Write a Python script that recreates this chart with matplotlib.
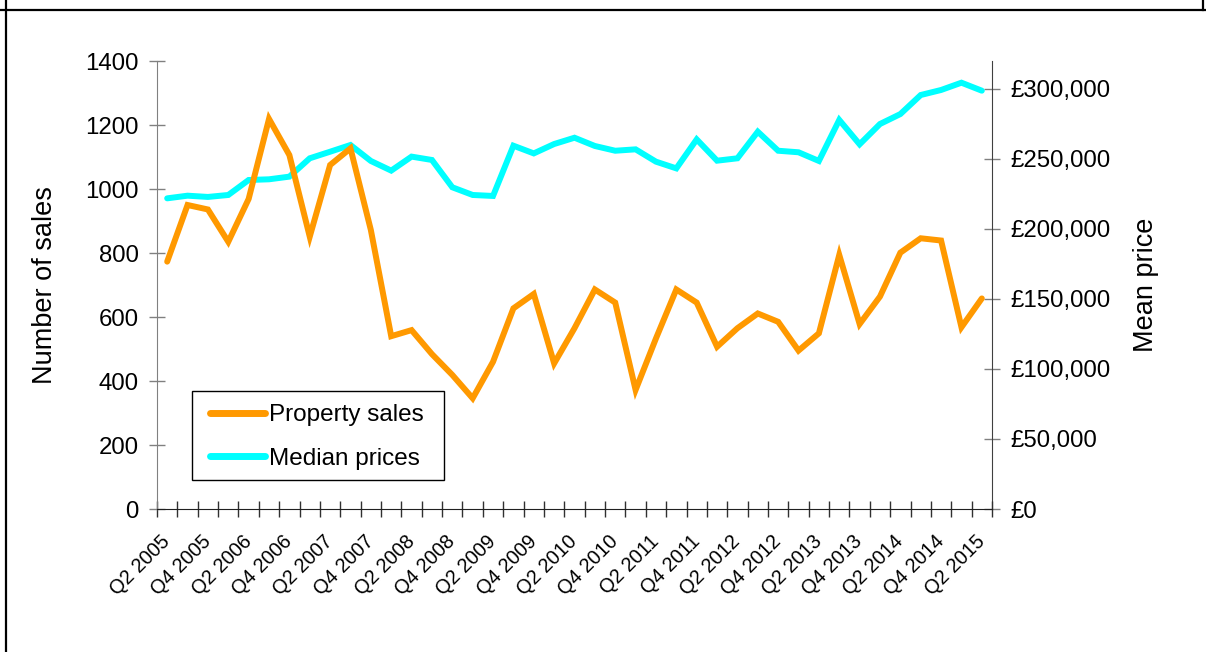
import matplotlib
matplotlib.use("Agg")
import matplotlib.pyplot as plt
from matplotlib.ticker import FuncFormatter, FixedLocator
from matplotlib.lines import Line2D
from matplotlib.patches import Rectangle

plt.rcParams['font.family'] = ['Liberation Sans', 'DejaVu Sans']

quarters = [f"Q{q} {y}" for y in range(2005, 2016) for q in (1, 2, 3, 4)]
quarters = quarters[1:quarters.index("Q2 2015") + 1]

property_sales = [773, 950, 936, 835, 969, 1219, 1106, 851, 1075, 1127,
                  872, 540, 559, 484, 419, 346, 460, 627, 672, 455,
                  565, 686, 645, 372, 533, 686, 645, 507, 565, 611,
                  585, 495, 549, 794, 578, 664, 801, 846, 839, 568, 658]

median_prices = [221900, 223800, 222900, 224300, 235000, 235500, 237400, 250500,
                 255200, 260000, 248600, 241700, 251700, 249300, 229800, 224300,
                 223600, 259500, 254000, 260700, 265200, 259300, 255900, 256900,
                 248100, 243300, 264000, 248800, 250500, 269500, 255900, 254800,
                 248600, 277900, 260500, 275000, 282100, 295700, 299300, 304500,
                 298800]

left_ticks = [0, 200, 400, 600, 800, 1000, 1200, 1400]
right_ticks = [0, 50000, 100000, 150000, 200000, 250000, 300000]

ORANGE = "#FF9900"
CYAN = "#00FFFF"
GREY = "#808080"

W, H = 1206, 652
AX_L, AX_R, AX_T, AX_B = 157, 992, 61, 509

fig = plt.figure(figsize=(W/100, H/100), dpi=100)
ax = fig.add_axes([AX_L/W, 1 - AX_B/H, (AX_R - AX_L)/W, (AX_B - AX_T)/H])
ax2 = ax.twinx()

x = list(range(len(quarters)))
l1, = ax.plot(x, property_sales, color=ORANGE, lw=4.3, solid_joinstyle='miter',
              solid_capstyle='round', zorder=3)
l2, = ax2.plot(x, median_prices, color=CYAN, lw=4.3, solid_joinstyle='miter',
               solid_capstyle='round', zorder=2)

ax.set_xlim(-0.5, len(quarters) - 0.5)
ax.set_ylim(0, 1400)
ax2.set_ylim(0, 320000)

# y axes
ax.set_yticks(left_ticks)
ax2.set_yticks(right_ticks)
ax2.yaxis.set_major_formatter(FuncFormatter(lambda v, p: f"£{v:,.0f}"))
ax.tick_params(axis='y', direction='inout', length=12, width=1, color=GREY,
               labelsize=17.3, pad=7)
ax2.tick_params(axis='y', direction='inout', length=12, width=1, color=GREY,
                labelsize=17.3, pad=7)

# x axis: ticks at category boundaries, labels at every second category
ax.xaxis.set_major_locator(FixedLocator(x[::2]))
ax.set_xticklabels(quarters[::2], rotation=45, ha='right', va='center',
                   rotation_mode='anchor', fontsize=14.3)
ax.tick_params(axis='x', which='major', length=0, pad=21)
ax.xaxis.set_minor_locator(FixedLocator([i - 0.5 for i in range(len(quarters) + 1)]))
ax.tick_params(axis='x', which='minor', direction='inout', length=12, width=1,
               color='#303030')

for a in (ax, ax2):
    a.spines['top'].set_visible(False)
ax.spines['left'].set_color(GREY)
ax.spines['right'].set_visible(False)
ax2.spines['left'].set_visible(False)
ax2.spines['right'].set_color('#404040')
ax2.spines['bottom'].set_visible(False)
ax.spines['bottom'].set_color('#202020')

ax.set_ylabel("Number of sales", fontsize=19.5, labelpad=20)
ax2.set_ylabel("Mean price", fontsize=19.5, labelpad=16)

ax.set_zorder(ax2.get_zorder() + 1)
ax.patch.set_visible(False)

# legend (frame drawn separately to match the wide, short box)
def ax_frac(px, py):
    return (px - AX_L)/(AX_R - AX_L), (AX_B - py)/(AX_B - AX_T)

leg = ax.legend([l1, l2], ["Property sales", "Median prices"], loc='upper left',
                bbox_to_anchor=ax_frac(210, 404), borderaxespad=0,
                fontsize=17.5, frameon=False, handlelength=2.25, handletextpad=0.17,
                borderpad=0, labelspacing=0.9)
for h in leg.get_lines():
    h.set_linewidth(5)
    h.set_solid_capstyle('round')

bx0, by0 = ax_frac(192, 480)
bx1, by1 = ax_frac(444, 391)
ax.add_patch(Rectangle((bx0, by0), bx1 - bx0, by1 - by0, transform=ax.transAxes,
                       fill=True, facecolor='white', edgecolor='black', lw=1.0,
                       zorder=4, clip_on=False))
leg.set_zorder(5)

# cropped border lines of the surrounding frame
fig.add_artist(Line2D([6/W, 6/W], [0, 1], transform=fig.transFigure,
                      color='black', lw=1.6))
fig.add_artist(Line2D([0, 1], [1 - 10/H, 1 - 10/H], transform=fig.transFigure,
                      color='black', lw=1.6))
fig.add_artist(Line2D([1203/W, 1203/W], [1 - 10/H, 1], transform=fig.transFigure,
                      color='black', lw=1.6))

fig.savefig("out.png", dpi=100)
